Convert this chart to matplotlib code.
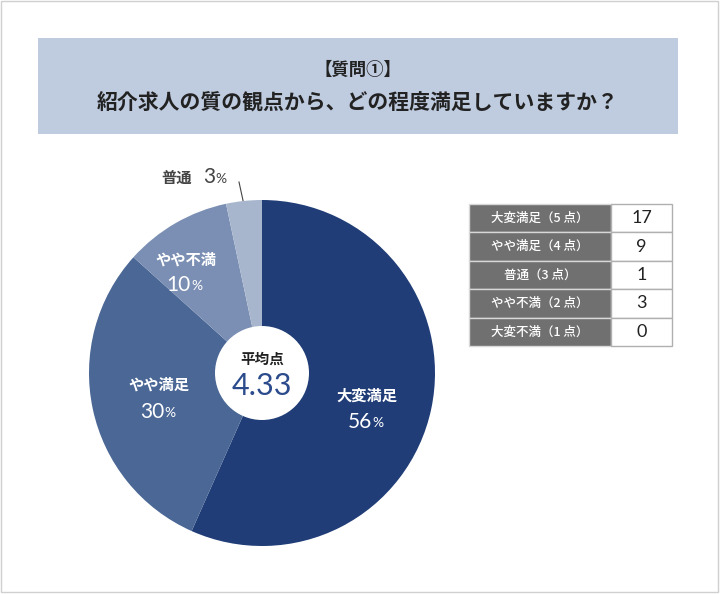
import matplotlib.pyplot as plt
from matplotlib.patches import Rectangle, Circle

plt.rcParams['font.family'] = ['Noto Sans CJK JP', 'DejaVu Sans']
NUM_FONT = ['Lato', 'DejaVu Sans']

# data
labels = ['大変満足', 'やや満足', 'やや不満', '普通']
counts = [17, 9, 3, 1]
pct_text = ['56', '30', '10', '3']
colors = ['#203d77', '#4a6795', '#7a8fb3', '#a8b6cd']

table_labels = ['大変満足（5 点）', 'やや満足（4 点）', '普通（3 点）', 'やや不満（2 点）', '大変不満（1 点）']
table_values = [17, 9, 1, 3, 0]
average = '4.33'

W, H = 720, 594
fig = plt.figure(figsize=(W / 100, H / 100), dpi=100)

# overlay axes in pixel coords
bg = fig.add_axes([0, 0, 1, 1])
bg.set_xlim(0, W)
bg.set_ylim(H, 0)
bg.axis('off')

bg.add_patch(Rectangle((1, 1), W - 3, H - 3, fill=False, ec='#d0d0d0', lw=1))
bg.add_patch(Rectangle((38, 38), 640, 96, fc='#bfcce0', ec='none'))
bg.text(358, 70, '【質問①】', ha='center', va='center', fontsize=12.5,
        fontweight='bold', color='#222222')
bg.text(358, 103, '紹介求人の質の観点から、どの程度満足していますか？', ha='center',
        va='center', fontsize=15, fontweight='bold', color='#222222')

# table
tx0, tx1, tx2 = 469, 611, 672
ty0, rh = 204, 28.4
for i, (lab, val) in enumerate(zip(table_labels, table_values)):
    y = ty0 + i * rh
    bg.add_patch(Rectangle((tx0, y), tx1 - tx0, rh, fc='#707070', ec='#d8d8d8', lw=1))
    bg.add_patch(Rectangle((tx1, y), tx2 - tx1, rh, fc='white', ec='#b0b0b0', lw=1))
    bg.text((tx0 + tx1) / 2, y + rh / 2, lab, ha='center', va='center',
            fontsize=9, fontweight='medium', color='white')
    bg.text((tx1 + tx2) / 2, y + rh / 2, str(val), ha='center', va='center',
            fontsize=13, family=NUM_FONT, color='#222222')

# pie
cx, cy, r = 262, 373, 173
ax = fig.add_axes([(cx - r) / W, (H - cy - r) / H, 2 * r / W, 2 * r / H])
ax.pie(counts, colors=colors, startangle=90, counterclock=False, radius=1,
       wedgeprops=dict(linewidth=0))
ax.set_xlim(-1, 1)
ax.set_ylim(-1, 1)
ax.set_aspect('equal')
ax.axis('off')

def px(x, y):
    return (x - cx) / r, (cy - y) / r

ax.add_patch(Circle((0, 0), 47 / r, fc='white', ec='none', zorder=3))
ax.text(*px(262, 359), '平均点', ha='center', va='center', fontsize=10.5,
        fontweight='bold', color='#222222', zorder=4)
ax.text(*px(262, 386), average, ha='center', va='center', fontsize=22,
        family=NUM_FONT, color='#2b4b8c', zorder=4)

label_pos = [(367, 396, 422), (159, 385, 412), (186, 260, 285)]
for (x, yl, yp), lab, p in zip(label_pos, labels[:3], pct_text[:3]):
    ax.text(*px(x, yl), lab, ha='center', va='center', fontsize=11,
            fontweight='bold', color='white')
    ax.text(*px(x + 5, yp), p, ha='right', va='center', fontsize=15,
            family=NUM_FONT, color='white')
    ax.text(*px(x + 5, yp + 1), '%', ha='left', va='center', fontsize=10,
            family=NUM_FONT, color='white')

# small slice label outside
bg.text(177, 178, labels[3], ha='center', va='center', fontsize=11,
        fontweight='bold', color='#444444')
bg.text(215, 177, pct_text[3], ha='right', va='center', fontsize=15,
        family=NUM_FONT, color='#444444')
bg.text(215, 179, '%', ha='left', va='center', fontsize=10,
        family=NUM_FONT, color='#444444')
bg.plot([239, 249], [182, 228], color='#444444', lw=0.8)

fig.savefig('out.png', dpi=100)
